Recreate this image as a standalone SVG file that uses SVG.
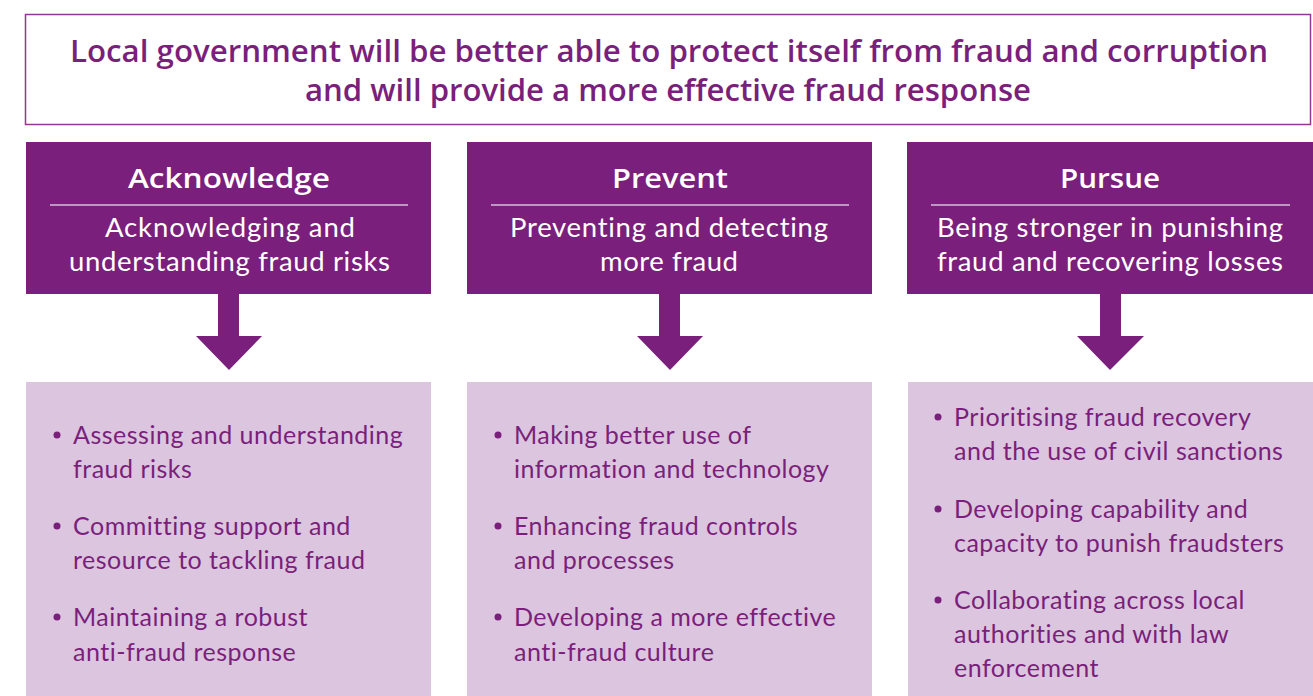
<svg xmlns="http://www.w3.org/2000/svg" width="1313" height="696" viewBox="0 0 1313 696">
<defs>
<style>
.title{font-family:"Open Sans",Lato,sans-serif;font-weight:600;font-size:30px;fill:#7a1f7b;text-anchor:middle}
.hdr{fill:#7a1f7b}
.hname{font-family:"Open Sans",Lato,sans-serif;font-weight:600;font-size:27.5px;fill:#ffffff;text-anchor:middle}
.hsub{font-family:Lato,"Open Sans",sans-serif;font-size:27.5px;fill:#ffffff;text-anchor:middle;font-variant-ligatures:none}
.div{stroke:#d9bfdc;stroke-width:1.5}
.box{fill:#dcc5df}
.bul{font-family:Lato,"Open Sans",sans-serif;font-size:25px;letter-spacing:0.5px;fill:#7a1f7b}
.dot{fill:#7a1f7b}
.arr{fill:#7a1f7b}
</style>
</defs>
<rect width="1313" height="696" fill="#ffffff"/>
<g id="goal">
<rect x="25.5" y="14.5" width="1285" height="110" fill="#ffffff" stroke="#8c3b8f" stroke-width="1.5"/>
<text class="title" x="669" y="62" textLength="1198" lengthAdjust="spacingAndGlyphs">Local government will be better able to protect itself from fraud and corruption</text>
<text class="title" x="668" y="101" textLength="726" lengthAdjust="spacingAndGlyphs">and will provide a more effective fraud response</text>
</g>
<g id="acknowledge">
<rect class="hdr" x="26" y="142" width="405" height="152"/>
<text class="hname" x="229" y="188" textLength="202" lengthAdjust="spacingAndGlyphs">Acknowledge</text>
<line class="div" x1="50" y1="205" x2="408" y2="205"/>
<text class="hsub" x="230" y="237" textLength="250" lengthAdjust="spacing">Acknowledging and</text>
<text class="hsub" x="229.5" y="271" textLength="321" lengthAdjust="spacing">understanding fraud risks</text>
</g>
<g id="prevent">
<rect class="hdr" x="467" y="142" width="405" height="152"/>
<text class="hname" x="670" y="188" textLength="116" lengthAdjust="spacingAndGlyphs">Prevent</text>
<line class="div" x1="491" y1="205" x2="849" y2="205"/>
<text class="hsub" x="669" y="237" textLength="318" lengthAdjust="spacing">Preventing and detecting</text>
<text class="hsub" x="669" y="271" textLength="138" lengthAdjust="spacing">more fraud</text>
</g>
<g id="pursue">
<rect class="hdr" x="907" y="142" width="406" height="152"/>
<text class="hname" x="1110" y="188" textLength="100" lengthAdjust="spacingAndGlyphs">Pursue</text>
<line class="div" x1="931" y1="205" x2="1290" y2="205"/>
<text class="hsub" x="1110" y="237" textLength="346" lengthAdjust="spacing">Being stronger in punishing</text>
<text class="hsub" x="1110" y="271" textLength="346" lengthAdjust="spacing">fraud and recovering losses</text>
</g>
<g id="connectors">
<polygon class="arr" points="218,294 239,294 239,336 262,336 229,370 196,336 218,336"/>
<polygon class="arr" points="659,294 680,294 680,336 703,336 670,370 637,336 659,336"/>
<polygon class="arr" points="1100,294 1121,294 1121,336 1144,336 1110,370 1077,336 1100,336"/>
</g>
<g id="acknowledge-actions">
<rect class="box" x="26" y="382" width="405" height="314"/>
<circle class="dot" cx="57" cy="435" r="3.5"/>
<text class="bul" x="73" y="444">Assessing and understanding</text>
<text class="bul" x="73" y="478">fraud risks</text>
<circle class="dot" cx="57" cy="526" r="3.5"/>
<text class="bul" x="73" y="535">Committing support and</text>
<text class="bul" x="73" y="569">resource to tackling fraud</text>
<circle class="dot" cx="57" cy="617" r="3.5"/>
<text class="bul" x="73" y="626">Maintaining a robust</text>
<text class="bul" x="73" y="661">anti-fraud response</text>
</g>
<g id="prevent-actions">
<rect class="box" x="467" y="382" width="405" height="314"/>
<circle class="dot" cx="498" cy="435" r="3.5"/>
<text class="bul" x="514" y="444">Making better use of</text>
<text class="bul" x="514" y="478">information and technology</text>
<circle class="dot" cx="498" cy="526" r="3.5"/>
<text class="bul" x="514" y="535">Enhancing fraud controls</text>
<text class="bul" x="514" y="569">and processes</text>
<circle class="dot" cx="498" cy="617" r="3.5"/>
<text class="bul" x="514" y="626">Developing a more effective</text>
<text class="bul" x="514" y="661">anti-fraud culture</text>
</g>
<g id="pursue-actions">
<rect class="box" x="908" y="382" width="405" height="314"/>
<circle class="dot" cx="938" cy="417" r="3.5"/>
<text class="bul" x="954" y="426">Prioritising fraud recovery</text>
<text class="bul" x="954" y="460">and the use of civil sanctions</text>
<circle class="dot" cx="938" cy="509" r="3.5"/>
<text class="bul" x="954" y="518">Developing capability and</text>
<text class="bul" x="954" y="552">capacity to punish fraudsters</text>
<circle class="dot" cx="938" cy="600" r="3.5"/>
<text class="bul" x="954" y="609">Collaborating across local</text>
<text class="bul" x="954" y="643">authorities and with law</text>
<text class="bul" x="954" y="677">enforcement</text>
</g>
</svg>
